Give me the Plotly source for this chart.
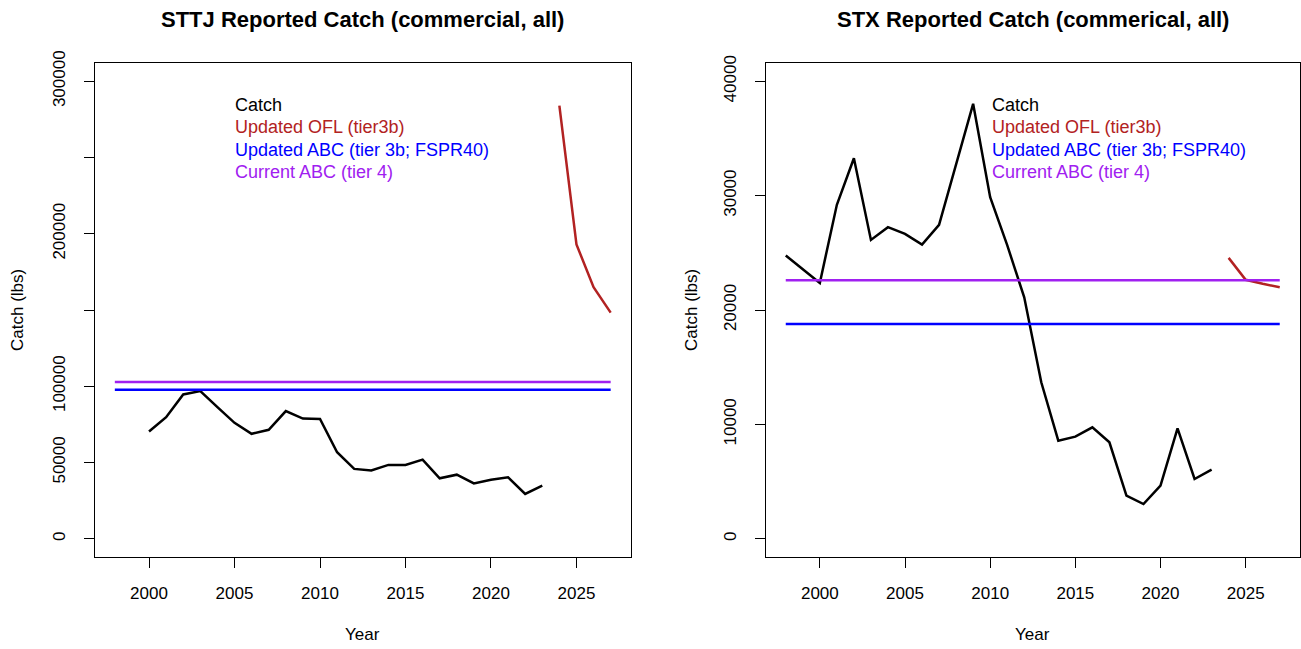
import plotly.graph_objects as go

# ---------------- data ----------------
sttj_years = list(range(2000, 2024))
sttj_catch = [70300, 79700, 94600, 96800, 86300, 76000, 68800, 71400, 83700, 78800,
              78500, 56700, 45800, 44700, 48400, 48400, 51900, 39600, 42000, 36300,
              38600, 40300, 29400, 34800]
proj_years = [2024, 2025, 2026, 2027]
sttj_ofl = [284000, 193000, 165000, 148300]
ref_years = [1998, 2027]
sttj_abc_updated = [97700, 97700]
sttj_abc_current = [102700, 102700]

stx_years = list(range(1998, 2024))
stx_catch = [24760, 23600, 22370, 29200, 33270, 26130, 27240, 26660, 25720, 27450,
             32640, 38030, 29860, 25670, 21110, 13680, 8575, 8925, 9740, 8430,
             3760, 3030, 4640, 9650, 5220, 6040]
stx_ofl = [24560, 22640, 22290, 21990]
stx_abc_updated = [18780, 18780]
stx_abc_current = [22600, 22600]

legend_labels = ["Catch", "Updated OFL (tier3b)", "Updated ABC (tier 3b; FSPR40)", "Current ABC (tier 4)"]
legend_colors = ["#000000", "#B22222", "#0000FF", "#A020F0"]

x_ticks = [2000, 2005, 2010, 2015, 2020, 2025]
sttj_yticks = [0, 50000, 100000, 150000, 200000, 250000, 300000]
sttj_yticktext = ["0", "50000", "100000", "", "200000", "", "300000"]
stx_yticks = [0, 10000, 20000, 30000, 40000]
stx_yticktext = ["0", "10000", "20000", "30000", "40000"]

# ---------------- figure ----------------
W, H = 1301, 649
FONT = "Liberation Sans, Arial, sans-serif"
LW = 2.5

fig = go.Figure()

def add_panel(xa, ya, yrs, catch, ofl, abc_u, abc_c):
    fig.add_trace(go.Scatter(x=yrs, y=catch, mode="lines", line=dict(color="#000000", width=LW),
                             xaxis=xa, yaxis=ya, showlegend=False))
    fig.add_trace(go.Scatter(x=proj_years, y=ofl, mode="lines", line=dict(color="#B22222", width=LW),
                             xaxis=xa, yaxis=ya, showlegend=False))
    fig.add_trace(go.Scatter(x=ref_years, y=abc_u, mode="lines", line=dict(color="#0000FF", width=LW),
                             xaxis=xa, yaxis=ya, showlegend=False))
    fig.add_trace(go.Scatter(x=ref_years, y=abc_c, mode="lines", line=dict(color="#A020F0", width=LW),
                             xaxis=xa, yaxis=ya, showlegend=False))

add_panel("x", "y", sttj_years, sttj_catch, sttj_ofl, sttj_abc_updated, sttj_abc_current)
add_panel("x2", "y2", stx_years, stx_catch, stx_ofl, stx_abc_updated, stx_abc_current)

px_x = lambda p: p / W
px_y = lambda p: 1 - p / H

dom_y = [px_y(557), px_y(63)]
dom_x1 = [px_x(95), px_x(630.5)]
dom_x2 = [px_x(766), px_x(1299.5)]

tickfont = dict(family=FONT, size=17, color="#000000")
common_x = dict(range=[1996.84, 2028.16], tickvals=x_ticks, ticks="outside", ticklen=10,
                tickwidth=1, tickcolor="#000000", showline=True, mirror=True, linecolor="#000000",
                linewidth=1, showgrid=False, zeroline=False, tickfont=tickfont,
                ticklabelstandoff=11, automargin=False)
common_y = dict(ticks="outside", ticklen=10, tickwidth=1, tickcolor="#000000", showline=True,
                mirror=True, linecolor="#000000", linewidth=1, showgrid=False, zeroline=False,
                tickfont=tickfont, tickangle=-90, ticklabelstandoff=12, automargin=False)

fig.update_layout(
    width=W, height=H,
    margin=dict(l=0, r=0, t=0, b=0, pad=0, autoexpand=False),
    paper_bgcolor="white", plot_bgcolor="white",
    xaxis=dict(domain=dom_x1, anchor="y", **common_x),
    yaxis=dict(domain=dom_y, anchor="x", range=[-12000, 312000], tickvals=sttj_yticks,
               ticktext=sttj_yticktext, **common_y),
    xaxis2=dict(domain=dom_x2, anchor="y2", **common_x),
    yaxis2=dict(domain=dom_y, anchor="x2", range=[-1600, 41600], tickvals=stx_yticks,
                ticktext=stx_yticktext, **common_y),
)

ann = []
def text(x, y, t, size=17, color="#000000", angle=0, xanchor="center", bold=False):
    ann.append(dict(x=px_x(x), y=px_y(y), xref="paper", yref="paper", text=(f"<b>{t}</b>" if bold else t),
                    showarrow=False, xanchor=xanchor, yanchor="middle", textangle=angle,
                    font=dict(family=FONT, size=size, color=color)))

# titles
text(362, 20, "STTJ Reported Catch (commercial, all)", size=22, bold=True)
text(1032.7, 20, "STX Reported Catch (commerical, all)", size=22, bold=True)
# axis titles
text(362, 634, "Year")
text(1032.7, 634, "Year")
text(18, 310, "Catch (lbs)", angle=-90)
text(692, 310, "Catch (lbs)", angle=-90)
# legends (text only)
rows = [105, 127.3, 149.6, 172]
for lx in (233, 990):
    for lab, col, ry in zip(legend_labels, legend_colors, rows):
        text(lx, ry, lab, size=18, color=col, xanchor="left")

fig.update_layout(annotations=ann)
fig.write_html("out.html", config={"displayModeBar": False},
               post_script="document.body.style.margin='0';document.body.style.overflow='hidden';")
